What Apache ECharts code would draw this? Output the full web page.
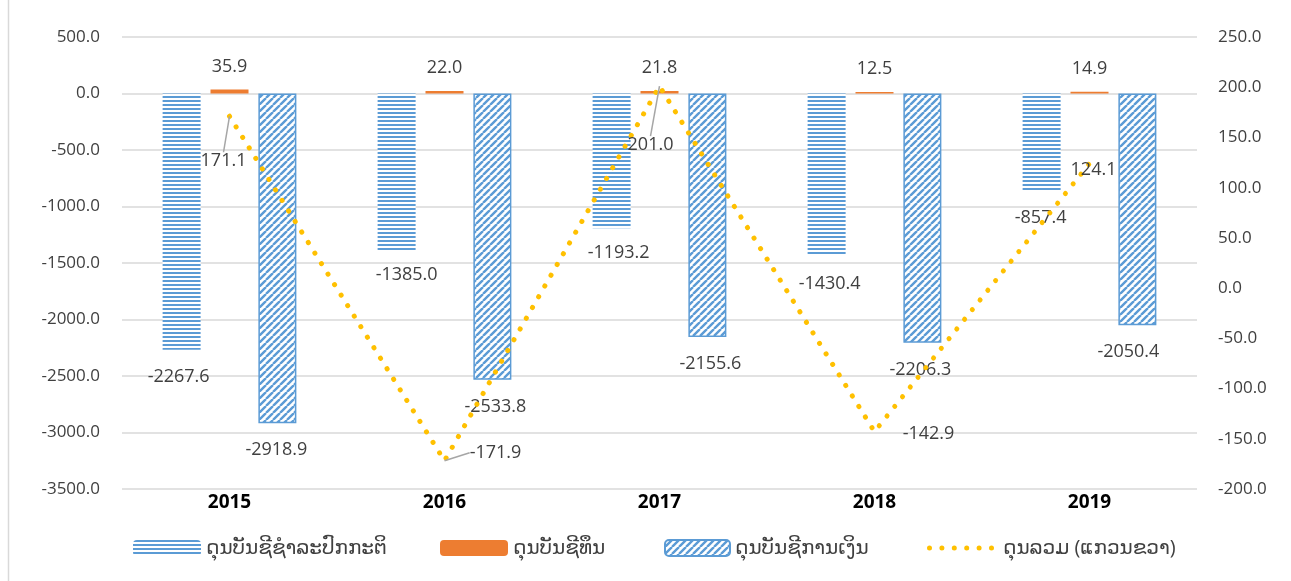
<!DOCTYPE html>
<html>
<head>
<meta charset="utf-8">
<script src="https://cdn.jsdelivr.net/npm/echarts@6/dist/echarts.min.js"></script>
<style>
html, body { margin: 0; padding: 0; background: #fff; }
#chart { width: 1291px; height: 581px; }
</style>
</head>
<body>
<div id="chart"></div>
<script>
var years = ['2015', '2016', '2017', '2018', '2019']
var currentAcc = [-2267.6, -1385.0, -1193.2, -1430.4, -857.4]
var capitalAcc = [35.9, 22.0, 21.8, 12.5, 14.9]
var financialAcc = [-2918.9, -2533.8, -2155.6, -2206.3, -2050.4]
var overall = [171.1, -171.9, 201.0, -142.9, 124.1]
var seriesNames = ['ດຸນບັນຊີຊໍາລະປົກກະຕິ', 'ດຸນບັນຊີທຶນ', 'ດຸນບັນຊີການເງິນ', 'ດຸນລວມ (ແກວນຂວາ)']

// where the labels were dragged to in the original (dx, dy)
var lineLabelShift = [[-6, 45], [51, -8], [-9, 59], [54, 2], [4, 6]]
var lineLabelLeader = [true, true, true, false, false]
var currentLabelShift = [[-3, 0], [10, -2], [7, -2], [3, 2], [-1, 0]]
var financialLabelShift = [[-1, 0], [3, 0], [3, 0], [-2, 0], [-9, 0]]

var blue = '#5B9BD5'
var yellow = '#FFC000'
var textColor = '#404040'
var font = '"Open Sans", "DejaVu Sans", sans-serif'

function hStripes() {
  var c = document.createElement('canvas')
  c.width = 4
  c.height = 4
  var ctx = c.getContext('2d')
  ctx.fillStyle = '#fff'
  ctx.fillRect(0, 0, 4, 4)
  ctx.fillStyle = blue
  ctx.fillRect(0, 0, 4, 2)
  return c
}
function dStripes() {
  var c = document.createElement('canvas')
  c.width = 7
  c.height = 7
  var ctx = c.getContext('2d')
  ctx.fillStyle = '#fff'
  ctx.fillRect(0, 0, 7, 7)
  ctx.strokeStyle = blue
  ctx.lineWidth = 2.4
  ctx.beginPath()
  for (var k = -7; k <= 14; k += 7) {
    ctx.moveTo(k, 7)
    ctx.lineTo(k + 7, 0)
  }
  ctx.stroke()
  return c
}
// six dots for the legend of the dotted line
function dotsPath() {
  var d = ''
  var r = 2.5
  for (var i = 0; i < 6; i++) {
    var cx = r + i * 12.4
    d += 'M' + (cx - r) + ',' + r + 'a' + r + ',' + r + ' 0 1,0 ' + (2 * r) + ',0a' + r + ',' + r + ' 0 1,0 ' + (-2 * r) + ',0Z'
  }
  return 'path://' + d
}

function fmt(p) { return p.value.toFixed(1) }

var legendBase = {
  top: 533,
  itemHeight: 16,
  itemGap: 0,
  textStyle: { color: textColor, fontSize: 20, fontFamily: font }
}

var chart = echarts.init(document.getElementById('chart'))
var option = {
  animation: false,
  textStyle: { fontFamily: font },
  grid: { left: 122, right: 94, top: 37, bottom: 92 },
  graphic: [{
    type: 'line',
    shape: { x1: 8.5, y1: 0, x2: 8.5, y2: 581 },
    style: { stroke: '#d9d9d9', lineWidth: 1.5 },
    silent: true
  }],
  legend: [
    Object.assign({}, legendBase, { left: 128, itemWidth: 68, data: [seriesNames[0]] }),
    Object.assign({}, legendBase, { left: 435, itemWidth: 68, data: [seriesNames[1]] }),
    Object.assign({}, legendBase, { left: 659, itemWidth: 65, data: [seriesNames[2]] }),
    Object.assign({}, legendBase, {
      left: 922, itemWidth: 67, itemHeight: 5,
      textStyle: { color: textColor, fontSize: 20, fontFamily: font, padding: [0, 0, 0, 4] },
      data: [{ name: seriesNames[3], icon: dotsPath() }]
    })
  ],
  xAxis: {
    type: 'category',
    data: years,
    axisLine: { show: false },
    axisTick: { show: false },
    axisLabel: { color: '#000', fontWeight: 'bold', fontSize: 19, margin: 4 }
  },
  yAxis: [
    {
      type: 'value',
      min: -3500,
      max: 500,
      interval: 500,
      axisLine: { show: false },
      axisTick: { show: false },
      splitLine: { lineStyle: { color: '#d9d9d9', width: 1.5 } },
      axisLabel: { color: textColor, fontSize: 17, margin: 22, formatter: function (v) { return v.toFixed(1) } }
    },
    {
      type: 'value',
      min: -200,
      max: 250,
      interval: 50,
      axisLine: { show: false },
      axisTick: { show: false },
      splitLine: { show: false },
      axisLabel: { color: textColor, fontSize: 17, margin: 21, formatter: function (v) { return v.toFixed(1) } }
    }
  ],
  labelLayout: function (params) {
    var s
    if (params.seriesIndex === 3) s = lineLabelShift[params.dataIndex]
    else if (params.seriesIndex === 0) s = currentLabelShift[params.dataIndex]
    else if (params.seriesIndex === 2) s = financialLabelShift[params.dataIndex]
    else return {}
    return { dx: s[0], dy: s[1] }
  },
  series: [
    {
      name: seriesNames[0],
      type: 'bar',
      barWidth: 38,
      barGap: '26%',
      itemStyle: { color: { image: hStripes(), repeat: 'repeat' } },
      label: { show: true, position: 'bottom', distance: 18, offset: [6, 0], color: textColor, fontSize: 18, formatter: fmt },
      data: currentAcc
    },
    {
      name: seriesNames[1],
      type: 'bar',
      barWidth: 38,
      itemStyle: { color: '#ED7D31' },
      label: { show: true, position: 'top', distance: 14, color: textColor, fontSize: 18, formatter: fmt },
      data: capitalAcc
    },
    {
      name: seriesNames[2],
      type: 'bar',
      barWidth: 38,
      itemStyle: { color: { image: dStripes(), repeat: 'repeat' }, borderColor: blue, borderWidth: 1.5 },
      label: { show: true, position: 'bottom', distance: 18, offset: [2, 0], color: textColor, fontSize: 18, formatter: fmt },
      data: financialAcc
    },
    {
      name: seriesNames[3],
      type: 'line',
      yAxisIndex: 1,
      symbol: 'circle',
      symbolSize: 0.01,
      z: 5,
      itemStyle: { color: yellow },
      lineStyle: { color: yellow, width: 5, type: [0.1, 12.3], cap: 'round' },
      label: { show: true, position: 'inside', color: textColor, fontSize: 18, formatter: fmt },
      data: overall.map(function (v, i) {
        return {
          value: v,
          labelLine: { show: lineLabelLeader[i], lineStyle: { color: '#a6a6a6', width: 1.5 } }
        }
      })
    }
  ]
}
chart.setOption(option)
</script>
</body>
</html>
